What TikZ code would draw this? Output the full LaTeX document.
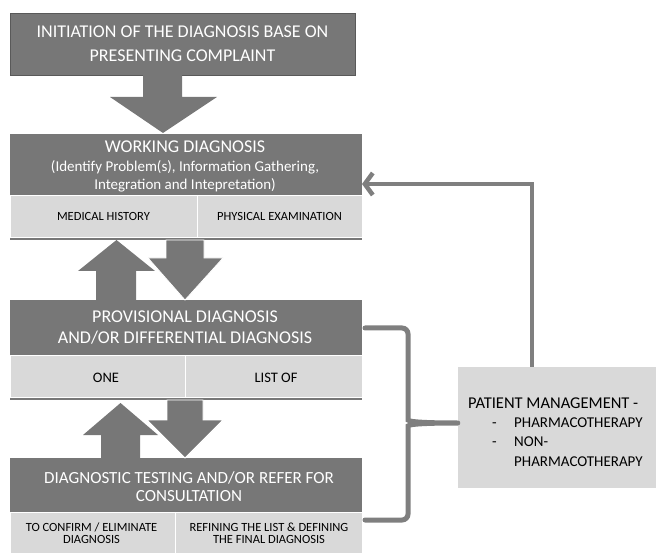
\documentclass[tikz,border=0pt]{standalone}
\usepackage{fontspec}
\setmainfont{Carlito}
\usetikzlibrary{arrows.meta}
\definecolor{dk}{HTML}{777777}
\definecolor{lt}{HTML}{D9D9D9}
\definecolor{ln}{HTML}{7F7F7F}
\begin{document}
\begin{tikzpicture}[x=1pt,y=-1pt,
  darkbox/.style={fill=dk, draw=none, inner sep=0pt, outer sep=0pt},
  cell/.style={fill=lt, draw=white, line width=0.5pt, inner sep=0pt, outer sep=0pt},
  big/.style={text=white, font=\fontsize{18}{21}\selectfont, anchor=base, inner sep=0pt},
  mid/.style={text=white, font=\fontsize{15}{18}\selectfont, anchor=base, inner sep=0pt},
  small/.style={text=black, font=\fontsize{12.5}{13}\selectfont, anchor=base, inner sep=0pt},
  pmtext/.style={text=black, font=\fontsize{15}{18}\selectfont, anchor=base west, inner sep=0pt},
  blockarrow/.style={fill=dk, draw=white, line width=0.8pt},
  conn/.style={draw=ln, line width=4.5pt}
]
\useasboundingbox (0,0) rectangle (656,553);

% top box
\node[darkbox, draw=black!65, line width=0.8pt, minimum width=345pt, minimum height=62pt] (init) at (182.5,44) {};
\node[big] (i1) at (182.5,38) {INITIATION OF THE DIAGNOSIS BASE ON};
\node[big] (i2) at (182.5,62) {PRESENTING COMPLAINT};

% working diagnosis
\node[darkbox, minimum width=352pt, minimum height=106pt] (wd) at (186,187) {};
\node[big] (w1) at (185,153) {WORKING DIAGNOSIS};
\node[mid] (w2) at (185,171.5) {(Identify Problem(s), Information Gathering,};
\node[mid] (w3) at (185,189.5) {Integration and Intepretation)};
\node[cell, minimum width=187pt, minimum height=42pt] (mh) at (103.5,216) {};
\node[cell, minimum width=165pt, minimum height=42pt] (pe) at (279.5,216) {};
\node[small] at (103.5,221) {MEDICAL HISTORY};
\node[small] at (279.5,221) {PHYSICAL EXAMINATION};

% provisional
\node[darkbox, minimum width=352pt, minimum height=100pt] (pd) at (186,350) {};
\node[big] (p1) at (185,323) {PROVISIONAL DIAGNOSIS};
\node[big] (p2) at (185,344) {AND/OR DIFFERENTIAL DIAGNOSIS};
\node[cell, minimum width=175pt, minimum height=42pt] (one) at (97.5,376) {};
\node[cell, minimum width=177pt, minimum height=42pt] (list) at (273.5,376) {};
\node[small, font=\fontsize{14.5}{15}\selectfont] at (106,382) {ONE};
\node[small, font=\fontsize{14.5}{15}\selectfont] at (276,382) {LIST OF};

% diagnostic testing
\node[darkbox, minimum width=352pt, minimum height=97pt] (dt) at (186,506.5) {};
\node[big, font=\fontsize{17}{20}\selectfont] (d1) at (189,483) {DIAGNOSTIC TESTING AND/OR REFER FOR};
\node[big, font=\fontsize{17}{20}\selectfont] (d2) at (189,501) {CONSULTATION};
\node[cell, minimum width=165pt, minimum height=42pt] (conf) at (92.5,533) {};
\node[cell, minimum width=187pt, minimum height=42pt] (refine) at (268.5,533) {};
\node[small] at (91.5,531) {TO CONFIRM / ELIMINATE};
\node[small] at (91.5,543.5) {DIAGNOSIS};
\node[small] at (269,531) {REFINING THE LIST \& DEFINING};
\node[small] at (269,543.5) {THE FINAL DIAGNOSIS};

% patient management
\node[fill=lt, draw=none, minimum width=198pt, minimum height=121pt, inner sep=0pt] (pm) at (557,427.5) {};
\node[pmtext, font=\fontsize{16.5}{19}\selectfont] at (468,408) {PATIENT MANAGEMENT -};
\node[pmtext] at (492,427.5) {-};
\node[pmtext] at (514,427.5) {PHARMACOTHERAPY};
\node[pmtext] at (492,446.5) {-};
\node[pmtext] at (514,446.5) {NON-};
\node[pmtext] at (514,466.5) {PHARMACOTHERAPY};

% block arrows
\fill[dk] (143,75) -- (182,75) -- (182,97) -- (217,97) -- (163,133) -- (110,97) -- (143,97) -- cycle;
% working <-> provisional
\fill[dk] (96,300) -- (96,271) -- (78,271) -- (116.5,240) -- (155,271) -- (136,271) -- (136,300) -- cycle;
\path[blockarrow] (166,240) -- (204,240) -- (204,258) -- (223,258) -- (185,300) -- (148,258) -- (166,258) -- cycle;
% provisional <-> diagnostic
\fill[dk] (101,458) -- (101,435) -- (83,435) -- (120.5,403) -- (158,435) -- (140,435) -- (140,458) -- cycle;
\path[blockarrow] (167,400) -- (203,400) -- (203,420) -- (223,420) -- (185,458) -- (147,420) -- (167,420) -- cycle;

% feedback arrow
\coordinate (fb) at (532,184);
\draw[conn, -{Straight Barb[length=8pt,width=22pt,line width=4.5pt]}] (pm.north -| fb) -- (fb) -- (wd.east |- fb);

% brace
\coordinate (bt) at (365,328);
\coordinate (bb) at (365,520);
\draw[draw=ln, line width=5pt, line cap=round, rounded corners=6pt]
  (bt) -- (408,328) -- (408,414)
  .. controls (408,421) and (414,423) .. (pm.west |- 0,423)
  (bb) -- (408,520) -- (408,432)
  .. controls (408,425) and (414,423) .. (pm.west |- 0,423);
\end{tikzpicture}
\end{document}
